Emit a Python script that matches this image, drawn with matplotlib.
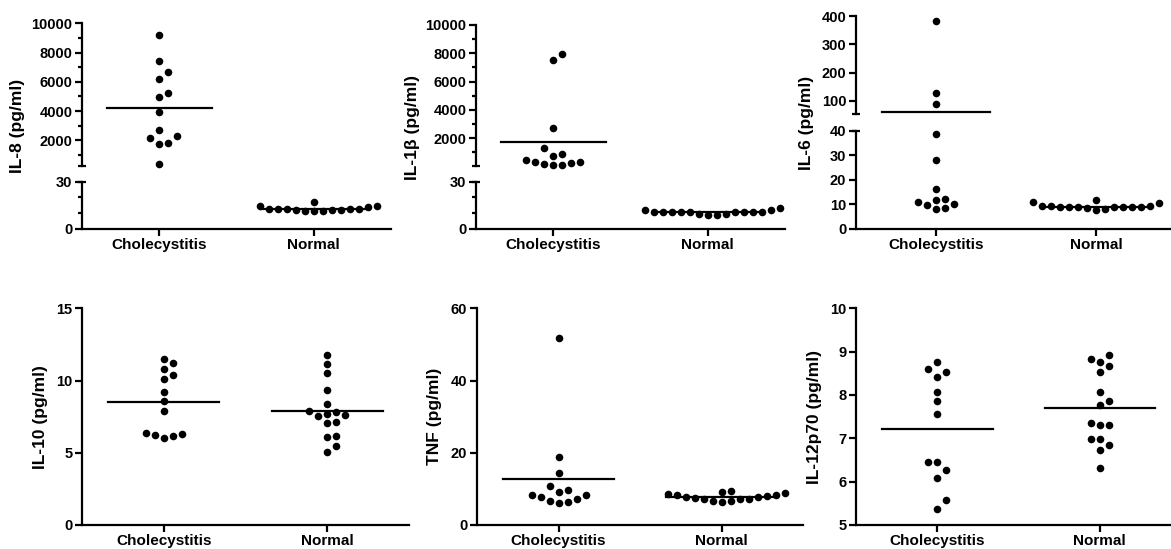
import matplotlib
matplotlib.use("Agg")
import matplotlib.pyplot as plt
import numpy as np
from matplotlib.ticker import MultipleLocator

plt.rcParams['font.family'] = ['Liberation Sans', 'DejaVu Sans']
plt.rcParams['font.weight'] = 'bold'

groups = ['Cholecystitis', 'Normal']

# values (pg/ml)
il8_chol = [9225, 7426, 6674, 6170, 5216, 4943, 3964, 2710, 2300, 2180, 1845, 1754, 364]
il8_norm = [12.7, 12.7, 12.5, 12.2, 14.9, 11.6, 17.0, 11.3, 13.8, 11.5, 14.9, 12.0, 12.0, 12.5, 12.7]
il8_mean = [4213, 12.7]

il1b_chol = [7953, 7530, 2710, 1294, 894, 706, 424, 282, 141, 60, 70, 212, 310]
il1b_norm = [10.9, 10.9, 10.9, 10.9, 10.9, 12.1, 9.6, 8.9, 12.1, 8.9, 10.9, 13.2, 10.9, 10.9, 10.9, 9.8]
il1b_mean = [1730, 10.9]

il6_chol = [383, 127, 88, 38.6, 28.0, 16.5, 12.4, 10.9, 9.9, 8.0, 8.7, 10.1, 11.7]
il6_norm = [9.1, 9.0, 9.2, 9.1, 11.0, 8.0, 9.3, 11.8, 7.8, 9.0, 10.7, 8.6, 9.1, 9.0, 9.1, 9.2]
il6_mean = [61, 9.1]

il10_chol = [11.24, 11.47, 10.78, 10.38, 10.08, 9.23, 8.58, 7.91, 6.39, 6.23, 6.05, 6.16, 6.32]
il10_norm = [11.77, 11.15, 10.50, 9.35, 8.35, 7.92, 7.68, 7.55, 7.85, 7.62, 7.15, 7.08, 6.16, 6.11, 5.47, 5.08]
il10_mean = [8.54, 7.92]

tnf_chol = [51.9, 18.9, 14.3, 10.8, 9.7, 9.05, 8.3, 7.66, 8.2, 6.74, 7.1, 6.2, 6.46]
tnf_norm = [8.3, 7.7, 7.1, 7.1, 9.0, 8.4, 6.6, 9.3, 8.6, 6.5, 8.8, 6.7, 7.1, 7.4, 7.7, 8.0]
tnf_mean = [12.7, 7.66]

il12_chol = [8.75, 8.52, 8.42, 8.59, 8.06, 7.85, 7.57, 6.26, 6.45, 6.45, 6.09, 5.57, 5.38]
il12_norm = [8.82, 8.75, 8.92, 8.66, 8.52, 8.06, 7.85, 7.76, 7.30, 7.30, 7.36, 6.98, 6.99, 6.85, 6.72, 6.32]
il12_mean = [7.22, 7.70]

W, H = 1171, 549
fig = plt.figure(figsize=(W / 100, H / 100), dpi=100)

LW = 1.6
DOT = 30
HALF = 0.34


def px_axes(left, top, right, bottom):
    return fig.add_axes([left / W, 1 - bottom / H, (right - left) / W, (bottom - top) / H])


def style(ax, xaxis=True):
    for s in ['top', 'right']:
        ax.spines[s].set_visible(False)
    ax.spines['left'].set_linewidth(LW)
    ax.spines['bottom'].set_linewidth(LW)
    ax.patch.set_alpha(0)
    ax.tick_params(axis='y', which='major', width=LW, length=5, labelsize=10.5, pad=2)
    ax.tick_params(axis='y', which='minor', width=LW, length=3)
    ax.set_xlim(-0.5, 1.5)
    if xaxis:
        ax.set_xticks([0, 1])
        ax.set_xticklabels(groups, fontsize=11)
        ax.tick_params(axis='x', width=LW, length=5, pad=1.5)
    else:
        ax.spines['bottom'].set_visible(False)
        ax.set_xticks([])


def swarm(values, ypix, px_per_unit, step=9.0, gap=8.5):
    # simple beeswarm: lowest first, slots 0, +1, -1, +2, -2 ...
    placed = []
    offs = np.zeros(len(values))
    cands = [0] + [s for j in range(1, 20) for s in (j, -j)]
    for i in np.argsort(values, kind='stable'):
        for s in cands:
            if all(not (ps == s and abs(py - ypix[i]) < gap) for ps, py in placed):
                break
        placed.append((s, ypix[i]))
        offs[i] = s
    return offs * step / px_per_unit


def ylabel(text, x, y):
    fig.text(x / W, 1 - y / H, text, rotation=90, ha='center', va='center',
             fontsize=12.5, fontweight='bold')


def simple_panel(left, right, top, bottom, ylim, yticks, data, means, label, lx):
    ax = px_axes(left, top, right, bottom)
    style(ax)
    ax.set_ylim(*ylim)
    ax.set_yticks(yticks)
    ppu = (right - left) / 2
    for c, (vals, m) in enumerate(zip(data, means)):
        yp = [ax.transData.transform((0, v))[1] for v in vals]
        x = c + swarm(vals, yp, ppu)
        ax.scatter(x, vals, s=DOT, color='k', lw=0, zorder=3, clip_on=False)
        ax.plot([c - HALF, c + HALF], [m, m], color='k', lw=LW, zorder=2)
    ylabel(label, lx, (top + bottom) / 2)


def broken_panel(left, right, up, lo, up_lim, lo_lim, up_ticks, lo_ticks,
                 data, means, label, lx, up_minor=None, lo_minor=None):
    axu = px_axes(left, up[0], right, up[1])
    axl = px_axes(left, lo[0], right, lo[1])
    style(axu, xaxis=False)
    style(axl)
    axu.set_ylim(*up_lim)
    axl.set_ylim(*lo_lim)
    axu.set_yticks(up_ticks)
    axl.set_yticks(lo_ticks)
    if up_minor:
        axu.yaxis.set_minor_locator(MultipleLocator(up_minor))
    if lo_minor:
        axl.yaxis.set_minor_locator(MultipleLocator(lo_minor))
    # break marks at the segment ends
    for a, yy in [(axu, 0), (axl, 1)]:
        a.plot([0], [yy], marker='_', ms=6, mew=LW, color='k',
               transform=a.transAxes, clip_on=False)
    ppu = (right - left) / 2
    split = up_lim[0]

    def which(v):
        return axu if v >= split else axl

    for c, (vals, m) in enumerate(zip(data, means)):
        yp = [which(v).transData.transform((0, v))[1] for v in vals]
        x = c + swarm(vals, yp, ppu)
        for xi, v in zip(x, vals):
            which(v).scatter([xi], [v], s=DOT, color='k', lw=0, zorder=3, clip_on=False)
        which(m).plot([c - HALF, c + HALF], [m, m], color='k', lw=LW, zorder=2)
    ylabel(label, lx, (up[0] + lo[1]) / 2)


# top row
broken_panel(82, 391, (23.3, 165.7), (181.7, 229), (263, 10000), (0, 30),
             [2000, 4000, 6000, 8000, 10000], [0, 30], [il8_chol, il8_norm], il8_mean,
             'IL-8 (pg/ml)', 18, up_minor=1000, lo_minor=10)
broken_panel(476, 785, (25, 165.7), (181.7, 229), (40, 10000), (0, 30),
             [2000, 4000, 6000, 8000, 10000], [0, 30], [il1b_chol, il1b_norm], il1b_mean,
             'IL-1β (pg/ml)', 412, up_minor=1000, lo_minor=10)
broken_panel(856, 1176, (16, 114.3), (131, 229), (53, 400), (0, 40),
             [100, 200, 300, 400], [0, 10, 20, 30, 40], [il6_chol, il6_norm], il6_mean,
             'IL-6 (pg/ml)', 807)

# bottom row
simple_panel(82, 409, 308.3, 525, (0, 15), [0, 5, 10, 15],
             [il10_chol, il10_norm], il10_mean, 'IL-10 (pg/ml)', 41)
simple_panel(477, 803, 308.3, 525, (0, 60), [0, 20, 40, 60],
             [tnf_chol, tnf_norm], tnf_mean, 'TNF (pg/ml)', 434)
simple_panel(856, 1181, 308.3, 525, (5, 10), [5, 6, 7, 8, 9, 10],
             [il12_chol, il12_norm], il12_mean, 'IL-12p70 (pg/ml)', 814)

fig.savefig('out.png', dpi=100)
